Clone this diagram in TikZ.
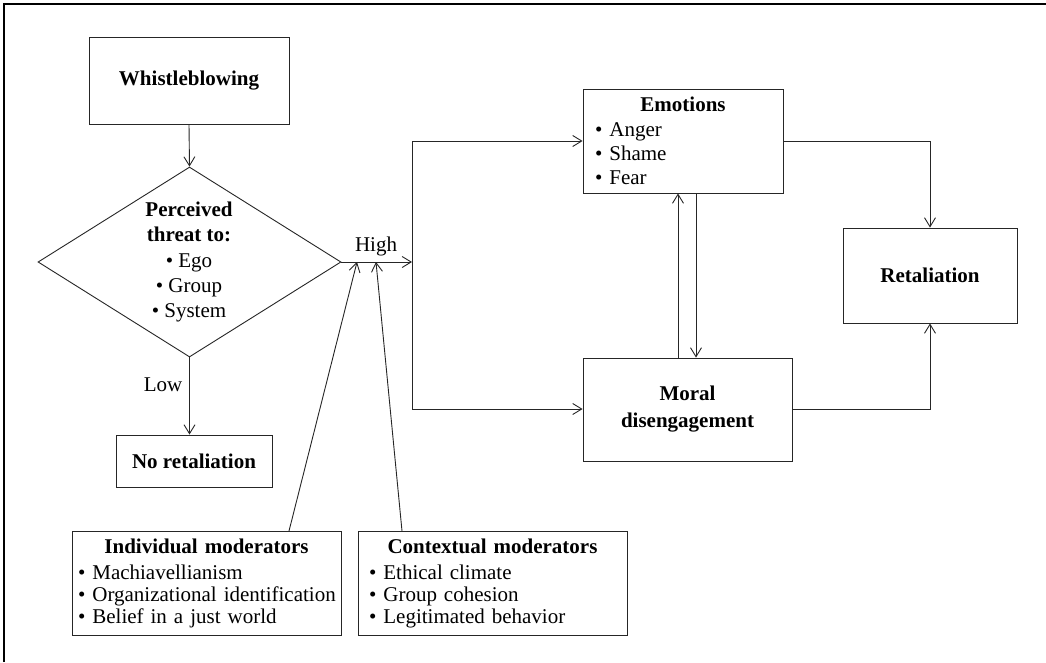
\documentclass[tikz,border=0pt]{standalone}
\usepackage{fontspec}
\setmainfont{Liberation Serif}
\usetikzlibrary{arrows.meta,shapes.geometric,calc}
\newcommand{\ctitle}[1]{\hfill\textbf{#1}\hfill\null}
\begin{document}
\begin{tikzpicture}[x=1pt,y=-1pt,
  ln/.style={draw=black!85, line width=0.9pt},
  box/.style={ln, rectangle, inner sep=0pt, font=\fontsize{21}{27}\selectfont\bfseries, align=center},
  lbl/.style={inner sep=0pt, font=\fontsize{21}{24}\selectfont},
  arr/.style={ln, -{Straight Barb[length=9pt,width=11pt]}},
  plain/.style={ln}]
\useasboundingbox (0,0) rectangle (1046,662);
\fill[white] (0,0) rectangle (1046,662);
% outer frame (top and left only)
\coordinate (fbl) at (4,662);
\coordinate (ftl) at (4,4);
\coordinate (ftr) at (1046,4);
\draw[line width=2.2pt] (fbl) -- (ftl) -- (ftr);

% boxes
\node[box, minimum width=200pt, minimum height=87pt] (wb) at (189,80.5) {Whistleblowing};
\node[ln, diamond, minimum width=303pt, minimum height=190pt, inner sep=0pt] (dia) at (189.5,262) {};
\node[lbl, align=center, font=\fontsize{21}{25.3}\selectfont] (diat) at (189,262) {\textbf{Perceived}\\\textbf{threat to:}\\• Ego\\• Group\\• System};
\node[box, minimum width=156pt, minimum height=52pt] (nr) at (194,461) {No retaliation};

\node[ln, rectangle, minimum width=200pt, minimum height=104pt, inner xsep=12pt, inner ysep=0pt, text width=176pt, align=left,
  font=\fontsize{21}{24.3}\selectfont] (emo) at (683,141)
  {\ctitle{Emotions}\\• Anger\\• Shame\\• Fear};
\node[box, minimum width=209pt, minimum height=103pt] (mor) at (687.5,409.5) {Moral\\disengagement};
\node[box, minimum width=174pt, minimum height=95pt] (ret) at (930,275.5) {Retaliation};

\node[ln, rectangle, minimum width=269pt, minimum height=104pt, inner xsep=6pt, inner ysep=0pt, text width=257pt, align=left,
  font=\fontsize{21}{22}\selectfont] (ind) at (206.5,583)
  {\ctitle{Individual moderators}\\[4pt]• Machiavellianism\\\mbox{• Organizational identification}\\• Belief in a just world};
\node[ln, rectangle, minimum width=269pt, minimum height=104pt, inner xsep=11pt, inner ysep=0pt, text width=247pt, align=left,
  font=\fontsize{21}{22}\selectfont] (ctx) at (492.5,583)
  {\ctitle{Contextual moderators}\\[4pt]• Ethical climate\\• Group cohesion\\• Legitimated behavior};

% labels
\node[lbl] (high) at (376,246) {High};
\node[lbl] (low) at (163,385) {Low};

% junction coordinates
\coordinate (hi) at (412,262);
\coordinate (jt) at (412,141);
\coordinate (jb) at (412,409);
\coordinate (m1) at (357,262);
\coordinate (m2) at (376,262);
\coordinate (i1) at (289,531);
\coordinate (c1) at (402,531);
\coordinate (ux) at (678,0);
\coordinate (dx) at (696,0);

% connectors
\draw[arr] (wb.south) -- (dia.north);
\draw[arr] (dia.south) -- (dia.south |- nr.north);
\draw[arr] (dia.east) -- (hi);
\draw[plain] (jt) -- (jb);
\draw[arr] (jt) -- (emo.west);
\draw[arr] (jb) -- (jb -| mor.west);
\draw[arr] (mor.north -| ux) -- (emo.south -| ux);
\draw[arr] (emo.south -| dx) -- (mor.north -| dx);
\draw[arr] (emo.east) -| (ret.north);
\draw[arr] (jb -| mor.east) -| (ret.south);
\draw[arr] (i1) -- (m1);
\draw[arr] (c1) -- (m2);
\end{tikzpicture}
\end{document}
